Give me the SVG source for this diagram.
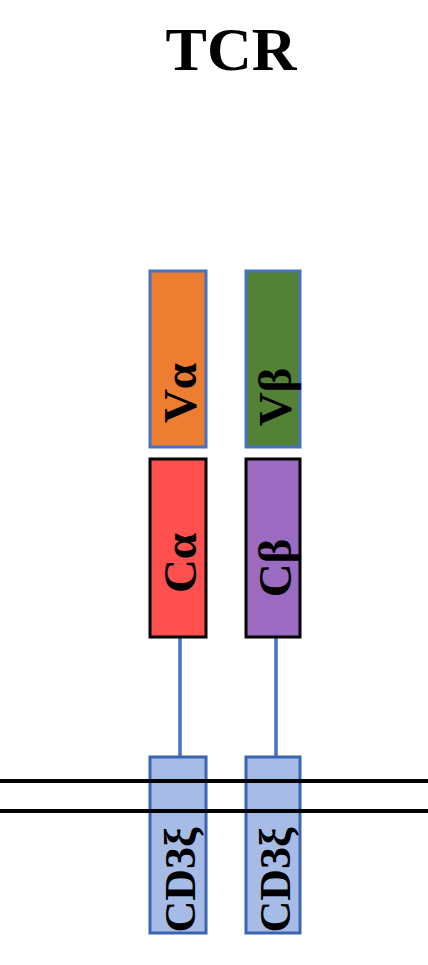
<svg xmlns="http://www.w3.org/2000/svg" width="428" height="965" viewBox="0 0 428 965">
<style>
.lbl{font-family:"Liberation Serif","Times New Roman",serif;font-weight:bold;fill:#000}
.seg{stroke-width:3}
.conn{stroke:#4472C4;stroke-width:3.5;fill:none}
.mem{stroke:#000;stroke-width:4}
</style>
<rect width="428" height="965" fill="#fff"/>
<text class="lbl" x="231" y="70" font-size="62" text-anchor="middle">TCR</text>
<g id="connectors">
<line class="conn" x1="180" y1="637" x2="180" y2="757"/>
<line class="conn" x1="276" y1="637" x2="276" y2="757"/>
</g>
<g id="Va">
<rect class="seg" x="150" y="271" width="56" height="176" fill="#ED7D31" stroke="#4472C4"/>
<text class="lbl" font-size="47" text-anchor="middle" transform="translate(196,393) rotate(-90)">Vα</text>
</g>
<g id="Vb">
<rect class="seg" x="246" y="271" width="54" height="176" fill="#538135" stroke="#4472C4"/>
<text class="lbl" font-size="47" text-anchor="middle" transform="translate(291,397) rotate(-90)">Vβ</text>
</g>
<g id="Ca">
<rect class="seg" x="150" y="459" width="56" height="178" fill="#FF5050" stroke="#000"/>
<text class="lbl" font-size="47" text-anchor="middle" transform="translate(196,563) rotate(-90)">Cα</text>
</g>
<g id="Cb">
<rect class="seg" x="246" y="459" width="54" height="178" fill="#9B6BC1" stroke="#000"/>
<text class="lbl" font-size="47" text-anchor="middle" transform="translate(291,568) rotate(-90)">Cβ</text>
</g>
<g id="CD3z1">
<rect class="seg" x="150" y="757" width="56" height="176" fill="#A6BCE6" stroke="#3C65B0"/>
<text class="lbl" font-size="44" text-anchor="middle" transform="translate(195,880) rotate(-90)">CD3ξ</text>
</g>
<g id="CD3z2">
<rect class="seg" x="246" y="757" width="54" height="176" fill="#A6BCE6" stroke="#3C65B0"/>
<text class="lbl" font-size="44" text-anchor="middle" transform="translate(290,880) rotate(-90)">CD3ξ</text>
</g>
<g id="membrane">
<line class="mem" x1="0" y1="781" x2="428" y2="781"/>
<line class="mem" x1="0" y1="811" x2="428" y2="811"/>
</g>
</svg>
